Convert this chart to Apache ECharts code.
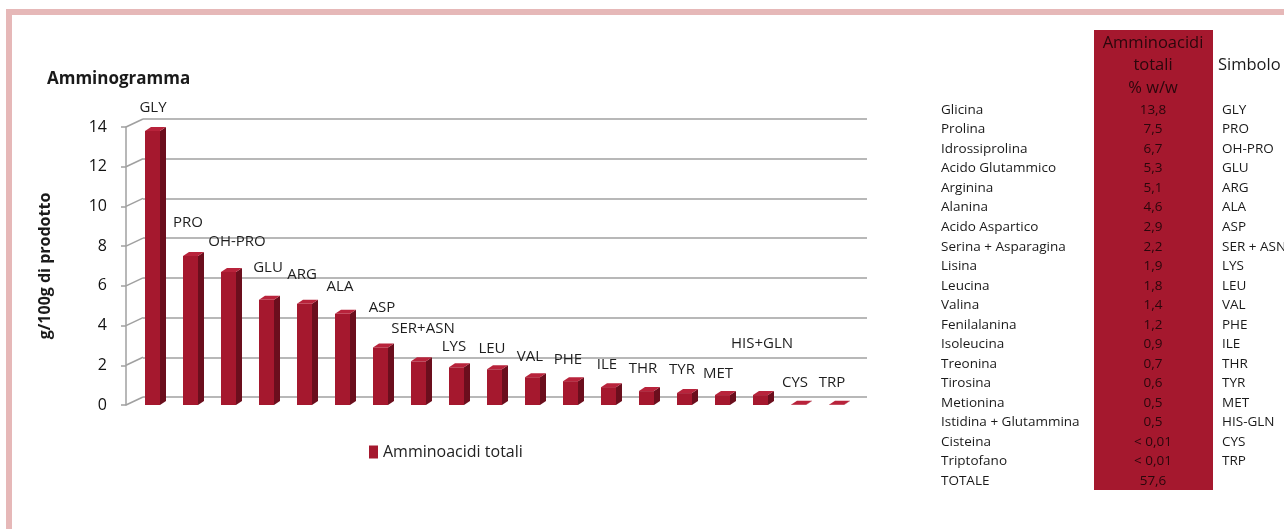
<!DOCTYPE html>
<html>
<head>
<meta charset="utf-8">
<script src="https://cdn.jsdelivr.net/npm/echarts@6/dist/echarts.min.js"></script>
<style>
  html, body { margin: 0; padding: 0; background: #fff; }
  #main { width: 1284px; height: 529px; }
</style>
</head>
<body>
<div id="main"></div>
<script>
// dati
var categories = ['GLY', 'PRO', 'OH-PRO', 'GLU', 'ARG', 'ALA', 'ASP', 'SER+ASN', 'LYS', 'LEU',
    'VAL', 'PHE', 'ILE', 'THR', 'TYR', 'MET', 'HIS+GLN', 'CYS', 'TRP'];
var values = [13.8, 7.5, 6.7, 5.3, 5.1, 4.6, 2.9, 2.2, 1.9, 1.8, 1.4, 1.2, 0.9, 0.7, 0.6, 0.5, 0.5, 0.01, 0.01];
var names = ['Glicina', 'Prolina', 'Idrossiprolina', 'Acido Glutammico', 'Arginina', 'Alanina',
    'Acido Aspartico', 'Serina + Asparagina', 'Lisina', 'Leucina', 'Valina', 'Fenilalanina',
    'Isoleucina', 'Treonina', 'Tirosina', 'Metionina', 'Istidina + Glutammina', 'Cisteina', 'Triptofano'];
var symbols = ['GLY', 'PRO', 'OH-PRO', 'GLU', 'ARG', 'ALA', 'ASP', 'SER + ASN', 'LYS', 'LEU',
    'VAL', 'PHE', 'ILE', 'THR', 'TYR', 'MET', 'HIS-GLN', 'CYS', 'TRP'];
var yTicks = [0, 2, 4, 6, 8, 10, 12, 14];

// posizione etichette (px sopra la barra / spostamento orizzontale)
var labelLift = [23, 33, 30, 32, 29, 27, 40, 33, 21, 21, 20, 21, 22, 22, 23, 21, 51, 22, 22];
var labelDx = [0, -3, 8, 1, -3, -3, 1, 4, -3, -3, -3, -3, -2, -4, -3, -5, 1, -4, -5];

var RED = '#a5182e';
var GRID = '#a0a0a0';
var TFONT = '13.5px "Open Sans"';

var myChart = echarts.init(document.getElementById('main'));

function fmt(v) {
    if (v < 0.05) return '< 0,01';
    return v.toFixed(1).replace('.', ',');
}

function renderBar(params, api) {
    var i = api.value(0);
    var top = api.coord([i, api.value(1)]);
    var base = api.coord([i, 0]);
    var x0 = top[0] - 8, w = 15, x1 = x0 + w;
    var yt = top[1], yb = base[1];
    var d = 6, e = 4;
    return {
        type: 'group',
        children: [
            { type: 'rect', shape: { x: x0, y: yt, width: w, height: yb - yt }, style: { fill: RED } },
            { type: 'polygon', shape: { points: [[x1, yt], [x1 + d, yt - e], [x1 + d, yb - e], [x1, yb]] },
              style: { fill: '#6b0e1d' } },
            { type: 'polygon', shape: { points: [[x0, yt], [x1, yt], [x1 + d, yt - e], [x0 + d, yt - e]] },
              style: { fill: '#b8233b' } },
            { type: 'text', x: top[0] + labelDx[i], y: yt - labelLift[i],
              style: { text: categories[i], align: 'center', verticalAlign: 'middle',
                       font: '15px "Open Sans"', fill: '#1e1e1e' } }
        ]
    };
}

function renderConnector(params, api) {
    var y = api.coord([0, api.value(1)])[1];
    var x = params.coordSys.x;
    return {
        type: 'line',
        shape: { x1: x - 8, y1: y, x2: x + 9, y2: y - 8 },
        style: { stroke: GRID, lineWidth: 1.5 }
    };
}

// tabella a destra
var graphics = [
    { type: 'rect', shape: { x: 6, y: 9, width: 1278, height: 6 }, style: { fill: '#e6b8b8' } },
    { type: 'rect', shape: { x: 6, y: 9, width: 6, height: 520 }, style: { fill: '#e6b8b8' } },
    { type: 'rect', shape: { x: 1094, y: 30, width: 119, height: 460 }, style: { fill: RED } }
];
['Amminoacidi', 'totali', '% w/w'].forEach(function (t, k) {
    graphics.push({ type: 'text', style: { text: t, x: 1153, y: 43 + k * 22.5, align: 'center',
        verticalAlign: 'middle', font: '16.5px "Open Sans"', fill: '#2a070c' } });
});
graphics.push({ type: 'text', style: { text: 'Simbolo', x: 1218, y: 65, align: 'left',
    verticalAlign: 'middle', font: '16.5px "Open Sans"', fill: '#1a1a1a' } });

var rowY = function (k) { return 110 + k * 19.53; };
var total = values.reduce(function (a, b) { return a + b; }, 0);
names.forEach(function (n, k) {
    graphics.push({ type: 'text', style: { text: n, x: 941, y: rowY(k), align: 'left',
        verticalAlign: 'middle', font: TFONT, fill: '#1a1a1a' } });
    graphics.push({ type: 'text', style: { text: fmt(values[k]), x: 1153, y: rowY(k), align: 'center',
        verticalAlign: 'middle', font: TFONT, fill: '#2a070c' } });
    graphics.push({ type: 'text', style: { text: symbols[k], x: 1222, y: rowY(k), align: 'left',
        verticalAlign: 'middle', font: TFONT, fill: '#1a1a1a' } });
});
graphics.push({ type: 'text', style: { text: 'TOTALE', x: 941, y: rowY(names.length), align: 'left',
    verticalAlign: 'middle', font: TFONT, fill: '#1a1a1a' } });
graphics.push({ type: 'text', style: { text: fmt(total), x: 1153, y: rowY(names.length), align: 'center',
    verticalAlign: 'middle', font: TFONT, fill: '#2a070c' } });

myChart.setOption({
    animation: false,
    backgroundColor: '#fff',
    title: {
        text: 'Amminogramma',
        left: 42, top: 66,
        textStyle: { fontFamily: 'Open Sans', fontSize: 17, fontWeight: 'bold', color: '#1a1a1a' }
    },
    legend: {
        data: ['Amminoacidi totali'],
        left: 364, top: 439,
        icon: 'rect', itemWidth: 9, itemHeight: 13,
        textStyle: { fontFamily: 'Open Sans', fontSize: 16, color: '#222' }
    },
    grid: [
        { left: 134, right: 428, top: 127, bottom: 124 },   // piano frontale (barre)
        { left: 143, right: 417, top: 119, bottom: 132 }    // parete di fondo (griglia)
    ],
    xAxis: [
        { type: 'category', gridIndex: 0, data: categories,
          axisLine: { show: false }, axisTick: { show: false }, axisLabel: { show: false } },
        { type: 'category', gridIndex: 1, data: categories, show: false }
    ],
    yAxis: [
        { type: 'value', gridIndex: 0, min: 0, max: 14, interval: 2, offset: 8,
          name: 'g/100g di prodotto', nameLocation: 'middle', nameGap: 73, nameRotate: 90,
          nameTextStyle: { fontFamily: 'Open Sans', fontSize: 16, fontWeight: 'bold', color: '#1a1a1a' },
          axisLine: { show: true, lineStyle: { color: GRID, width: 1.5 } },
          axisTick: { show: true, length: 5, lineStyle: { color: GRID, width: 1.5 } },
          axisLabel: { margin: 19, fontFamily: 'Open Sans', fontSize: 16, color: '#111' },
          splitLine: { show: false } },
        { type: 'value', gridIndex: 1, min: 0, max: 14, interval: 2,
          axisLine: { show: false }, axisTick: { show: false }, axisLabel: { show: false },
          splitLine: { show: true, lineStyle: { color: GRID, width: 1.5 } } }
    ],
    series: [
        {
            type: 'custom', name: 'griglia', silent: true,
            xAxisIndex: 0, yAxisIndex: 0,
            data: yTicks.map(function (v) { return [0, v]; }),
            encode: { x: 0, y: 1 },
            renderItem: renderConnector, z: 1
        },
        {
            type: 'custom', name: 'Amminoacidi totali',
            xAxisIndex: 0, yAxisIndex: 0,
            itemStyle: { color: RED },
            data: values.map(function (v, i) { return [i, v]; }),
            encode: { x: 0, y: 1 },
            renderItem: renderBar, z: 3
        }
    ],
    graphic: graphics
});
</script>
</body>
</html>
